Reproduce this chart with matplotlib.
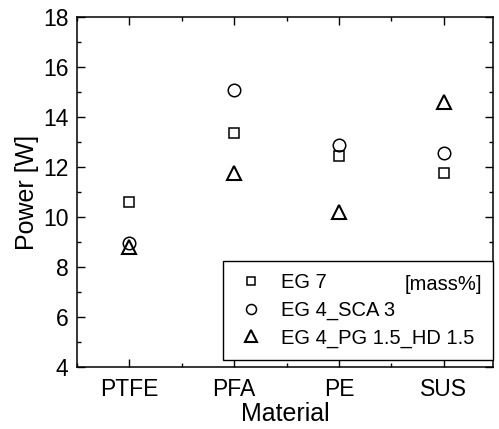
import matplotlib.pyplot as plt
from matplotlib.ticker import MultipleLocator

plt.rcParams['font.family'] = ['Liberation Sans', 'DejaVu Sans']

materials = ['PTFE', 'PFA', 'PE', 'SUS']
eg7 = [10.6, 13.35, 12.45, 11.75]
eg4_sca3 = [8.95, 15.1, 12.9, 12.55]
eg4_pg_hd = [8.8, 11.75, 10.2, 14.6]
labels = ['EG 7', 'EG 4_SCA 3', 'EG 4_PG 1.5_HD 1.5']

fig = plt.figure(figsize=(4.99, 4.29), dpi=100)
ax = fig.add_axes([0.154, 0.145, 0.834, 0.815])

x = list(range(len(materials)))
ax.plot(x, eg7, 's', mfc='none', mec='black', ms=7.5, mew=1.1, label=labels[0])
ax.plot(x, eg4_sca3, 'o', mfc='none', mec='black', ms=9, mew=1.1, label=labels[1])
ax.plot(x, eg4_pg_hd, '^', mfc='none', mec='black', ms=10, mew=1.5, label=labels[2])

ax.set_xlim(-0.5, 3.47)
ax.set_ylim(4, 18)
ax.set_xticks(x)
ax.set_xticklabels(materials)
ax.xaxis.set_minor_locator(MultipleLocator(0.5))
ax.yaxis.set_major_locator(MultipleLocator(2))
ax.yaxis.set_minor_locator(MultipleLocator(1))
ax.tick_params(which='both', direction='in', top=True, right=True, labelsize=16.5, width=1)
ax.tick_params(which='major', length=6)
ax.tick_params(which='minor', length=3)
ax.tick_params(axis='x', pad=8)
ax.tick_params(axis='y', pad=6)
for s in ax.spines.values():
    s.set_linewidth(1.1)

ax.set_xlabel('Material', fontsize=18, labelpad=1)
ax.set_ylabel('Power [W]', fontsize=18, labelpad=3)

leg = ax.legend(loc='lower left', bbox_to_anchor=(0.351, 0.02, 0.649, 0.28), mode='expand',
                fontsize=14.5, frameon=True, fancybox=False, edgecolor='black', framealpha=1,
                handletextpad=0.7, borderpad=0.6, labelspacing=0.42, borderaxespad=0,
                markerscale=0.8, handlelength=1.6)
leg.get_frame().set_linewidth(1.0)
leg.set_zorder(3)

ax.text(0.975, 0.234, '[mass%]', transform=ax.transAxes, ha='right', va='center',
        fontsize=14.5, zorder=5)

fig.savefig('out.png', dpi=100)
